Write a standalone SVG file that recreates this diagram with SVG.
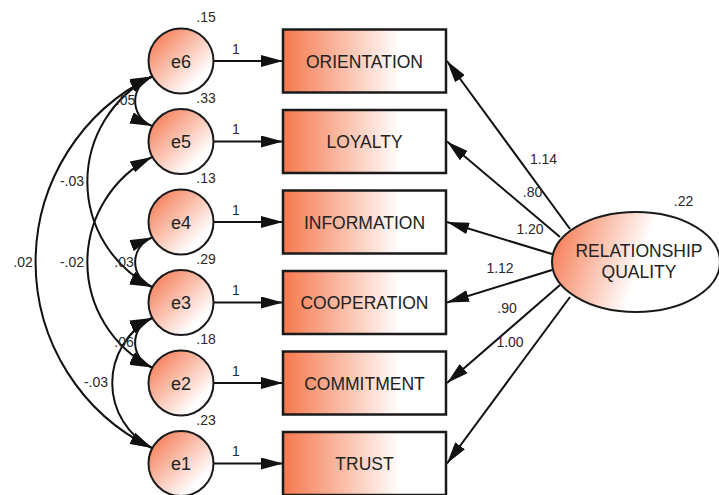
<svg xmlns="http://www.w3.org/2000/svg" width="719" height="495" viewBox="0 0 719 495">
<defs>
<linearGradient id="gRect" x1="0" y1="0" x2="1" y2="0">
<stop offset="0" stop-color="#F5784D"/>
<stop offset="0.72" stop-color="#FFFFFF"/>
</linearGradient>
<linearGradient id="gCirc" x1="0.1" y1="0.1" x2="0.9" y2="0.9">
<stop offset="0" stop-color="#F57F58"/>
<stop offset="0.85" stop-color="#FFFFFF"/>
</linearGradient>
<linearGradient id="gEll" x1="0" y1="0.3" x2="1" y2="0.5">
<stop offset="0" stop-color="#F57D55"/>
<stop offset="0.55" stop-color="#FFFFFF"/>
</linearGradient>
<marker id="arr" viewBox="0 0 22 12" refX="22" refY="6" markerWidth="22" markerHeight="12" markerUnits="userSpaceOnUse" orient="auto-start-reverse">
<path d="M0,0 L22,6 L0,12 Z" fill="#111"/>
</marker>
</defs>
<style>
.box{fill:url(#gRect);stroke:#1a1a1a;stroke-width:2.5}
.err{fill:url(#gCirc);stroke:#1a1a1a;stroke-width:2}
.lat{fill:url(#gEll);stroke:#1a1a1a;stroke-width:2}
.lbl{font-family:"Liberation Sans",Arial,sans-serif;font-size:17.5px;fill:#222;text-anchor:middle}
.elb{font-family:"Liberation Sans",Arial,sans-serif;font-size:18px;fill:#222;text-anchor:middle}
.num{font-family:"Liberation Sans",Arial,sans-serif;font-size:14px;fill:#2a2a2a;text-anchor:middle}
.ln{fill:none;stroke:#111;stroke-width:2;marker-end:url(#arr)}
.cov{fill:none;stroke:#111;stroke-width:2;marker-start:url(#arr);marker-end:url(#arr)}
</style>
<rect width="719" height="495" fill="#fff"/>
<g id="connectors">
<line class="ln" x1="213.5" y1="61" x2="283" y2="61"/>
<line class="ln" x1="213.5" y1="141.5" x2="283" y2="141.5"/>
<line class="ln" x1="213.5" y1="222" x2="283" y2="222"/>
<line class="ln" x1="213.5" y1="302.5" x2="283" y2="302.5"/>
<line class="ln" x1="213.5" y1="383" x2="283" y2="383"/>
<line class="ln" x1="213.5" y1="463.5" x2="283" y2="463.5"/>
<line class="ln" x1="570" y1="229" x2="447" y2="61"/>
<line class="ln" x1="560" y1="237" x2="447" y2="141.5"/>
<line class="ln" x1="552" y1="254" x2="447" y2="222"/>
<line class="ln" x1="552" y1="270" x2="447" y2="302.5"/>
<line class="ln" x1="560" y1="285" x2="447" y2="383"/>
<line class="ln" x1="570" y1="297" x2="447" y2="463.5"/>
<path class="cov" d="M152,76.5 A26.6,26.6 0 0 0 152,126"/>
<path class="cov" d="M152,237.5 A26.6,26.6 0 0 0 152,287"/>
<path class="cov" d="M152,318 A26.6,26.6 0 0 0 152,367.5"/>
<path class="cov" d="M152,76.5 A118,118 0 0 0 152,287"/>
<path class="cov" d="M152,157 A118,118 0 0 0 152,367.5"/>
<path class="cov" d="M152,76.5 A206.4,206.4 0 0 0 152,448"/>
<path class="cov" d="M152,318 A73,73 0 0 0 152,448"/>
<text class="num" x="236" y="53.5">1</text>
<text class="num" x="236" y="134">1</text>
<text class="num" x="236" y="214.5">1</text>
<text class="num" x="236" y="295">1</text>
<text class="num" x="236" y="375.5">1</text>
<text class="num" x="236" y="456">1</text>
<text class="num" x="543.5" y="164">1.14</text>
<text class="num" x="532.5" y="197">.80</text>
<text class="num" x="530" y="234">1.20</text>
<text class="num" x="500" y="273">1.12</text>
<text class="num" x="507" y="313">.90</text>
<text class="num" x="510" y="347">1.00</text>
<text class="num" x="125.5" y="105">.05</text>
<text class="num" x="72" y="186">-.03</text>
<text class="num" x="23" y="267">.02</text>
<text class="num" x="72" y="267">-.02</text>
<text class="num" x="124" y="267">.03</text>
<text class="num" x="124" y="347">.06</text>
<text class="num" x="96" y="387">-.03</text>
</g>
<g id="e6"><circle class="err" cx="181" cy="61" r="32.5"/><text class="elb" x="181" y="67.5">e6</text><text class="num" x="206" y="22">.15</text></g>
<g id="e5"><circle class="err" cx="181" cy="141.5" r="32.5"/><text class="elb" x="181" y="148">e5</text><text class="num" x="206" y="102.5">.33</text></g>
<g id="e4"><circle class="err" cx="181" cy="222" r="32.5"/><text class="elb" x="181" y="228.5">e4</text><text class="num" x="206" y="183">.13</text></g>
<g id="e3"><circle class="err" cx="181" cy="302.5" r="32.5"/><text class="elb" x="181" y="309">e3</text><text class="num" x="206" y="263.5">.29</text></g>
<g id="e2"><circle class="err" cx="181" cy="383" r="32.5"/><text class="elb" x="181" y="389.5">e2</text><text class="num" x="206" y="344">.18</text></g>
<g id="e1"><circle class="err" cx="181" cy="463.5" r="32.5"/><text class="elb" x="181" y="470">e1</text><text class="num" x="206" y="424.5">.23</text></g>
<g id="orientation"><rect class="box" x="283" y="29.5" width="163" height="63"/><text class="lbl" x="364.5" y="67.5">ORIENTATION</text></g>
<g id="loyalty"><rect class="box" x="283" y="110" width="163" height="63"/><text class="lbl" x="364.5" y="148">LOYALTY</text></g>
<g id="information"><rect class="box" x="283" y="190.5" width="163" height="63"/><text class="lbl" x="364.5" y="228.5">INFORMATION</text></g>
<g id="cooperation"><rect class="box" x="283" y="271" width="163" height="63"/><text class="lbl" x="364.5" y="309">COOPERATION</text></g>
<g id="commitment"><rect class="box" x="283" y="351.5" width="163" height="63"/><text class="lbl" x="364.5" y="389.5">COMMITMENT</text></g>
<g id="trust"><rect class="box" x="283" y="432" width="163" height="63"/><text class="lbl" x="364.5" y="470">TRUST</text></g>
<g id="relationship-quality"><ellipse class="lat" cx="636" cy="262" rx="84" ry="50"/><text class="lbl" x="639" y="257">RELATIONSHIP</text><text class="lbl" x="639" y="278">QUALITY</text><text class="num" x="683.5" y="206">.22</text></g>
</svg>
